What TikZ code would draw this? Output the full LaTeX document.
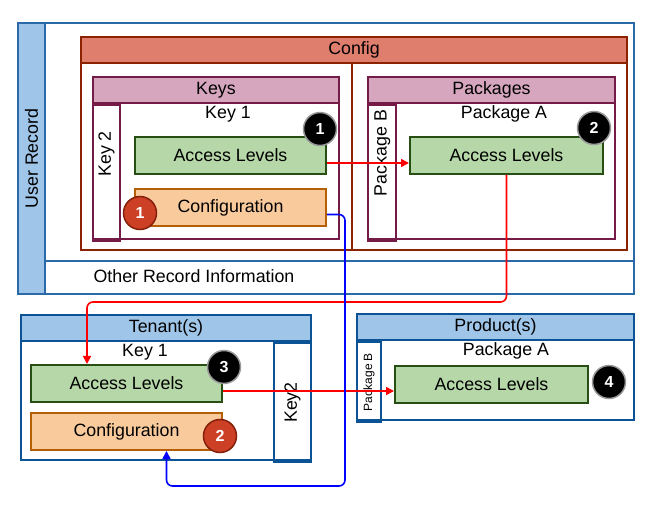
\documentclass[tikz,border=0pt]{standalone}
\usepackage{fontspec}
\setmainfont{Liberation Sans}
\usepackage{xcolor}
\usepackage{tikz}
\usetikzlibrary{arrows.meta}
\usetikzlibrary{calc}
\usetikzlibrary{positioning}

\definecolor{recblue}{HTML}{2A6AA8}
\definecolor{hdrblue}{HTML}{9FC5E8}
\definecolor{tenblue}{HTML}{0B5394}
\definecolor{cfgfill}{HTML}{E07E6E}
\definecolor{cfgline}{HTML}{8B2200}
\definecolor{keyfill}{HTML}{D5A6BD}
\definecolor{keyline}{HTML}{741B47}
\definecolor{alfill}{HTML}{B6D7A8}
\definecolor{alline}{HTML}{274E13}
\definecolor{cffill}{HTML}{F9CB9C}
\definecolor{cfline}{HTML}{B45F06}
\definecolor{badgered}{HTML}{CC4125}
\definecolor{badgeline}{HTML}{85200C}

\begin{document}
\begin{tikzpicture}
[
	x					= 1pt,
	y					= -1pt,
	every node/.style	= {font = \fontsize{17.8}{20}\selectfont, inner sep = 0pt},
	Frame/.style		= {anchor = north west, line width = 2pt},
	Header/.style		= {Frame, minimum height = 26pt},
	Item/.style			= {Frame, minimum width = 191pt, minimum height = 37pt},
	Access/.style		= {Item, fill = alfill, draw = alline},
	Setting/.style		= {Item, fill = cffill, draw = cfline},
	Badge/.style		= {circle, minimum size = 33pt, text = white, line width = 1.5pt, font = \fontsize{16}{16}\selectfont\bfseries},
	BlackBadge/.style	= {Badge, fill = black, draw = black!40},
	RedBadge/.style		= {Badge, fill = badgered, draw = badgeline},
	Link/.style			= {line width = 1.6pt, rounded corners = 6pt, -{Triangle[length = 8pt, width = 8pt]}},
]

	\useasboundingbox (0,0) rectangle (654,513);

	% user record
	\node (rec) [Frame, draw = recblue, minimum width = 616pt, minimum height = 271pt] at (17,22) {};
	\node (recSide) [Frame, draw = recblue, fill = hdrblue, minimum width = 27pt, minimum height = 271pt] at (17,22) {};
	\node (recName) [rotate = 90] at (recSide.center) {User Record};
	\node (other) [Frame, draw = recblue, minimum width = 589pt, minimum height = 33pt] at (44,260) {};
	\node (otherName) at (194,276) {Other Record Information};

	% config
	\node (cfg) [Frame, draw = cfgline, minimum width = 546pt, minimum height = 213pt] at (80,36) {};
	\node (cfgHead) [Header, draw = cfgline, fill = cfgfill, minimum width = 546pt] at (cfg.north west) {Config};
	\coordinate (cfgSplit) at (352,62);
	\draw [line width = 2pt, draw = cfgline] (cfgSplit) -- (cfgSplit |- cfg.south);

	\node (keys) [Frame, draw = keyline, minimum width = 246pt, minimum height = 162pt] at (92,76) {};
	\node (keysHead) [Header, draw = keyline, fill = keyfill, minimum width = 246pt] at (keys.north west) {Keys};
	\node (key2) [Frame, draw = keyline, minimum width = 27pt, minimum height = 136pt] at (keysHead.south west) {};
	\node (key2Name) [rotate = 90] at ($(key2.center)+(0,-19)$) {Key 2};
	\node (key1Name) at (228,114) {Key 1};
	\node (keyAccess) [Access] at (134,136) {Access Levels};
	\node (keyConfig) [Setting] at (134,188) {Configuration};

	\node (pkgs) [Frame, draw = keyline, minimum width = 247pt, minimum height = 162pt] at (367,76) {};
	\node (pkgsHead) [Header, draw = keyline, fill = keyfill, minimum width = 247pt] at (pkgs.north west) {Packages};
	\node (pkgB) [Frame, draw = keyline, minimum width = 28pt, minimum height = 136pt] at (pkgsHead.south west) {};
	\node (pkgBName) [rotate = 90] at ($(pkgB.center)+(0,-20)$) {Package B};
	\node (pkgAName) at (504,114) {Package A};
	\node (pkgAccess) [Access, minimum width = 193pt] at (409,136) {Access Levels};

	% tenant
	\node (ten) [Frame, draw = tenblue, minimum width = 290pt, minimum height = 145pt] at (20,314) {};
	\node (tenHead) [Header, draw = tenblue, fill = hdrblue, minimum width = 290pt] at (ten.north west) {Tenant(s)};
	\node (tenKey2) [Frame, draw = tenblue, anchor = north east, minimum width = 37pt, minimum height = 119pt] at (tenHead.south east) {};
	\node (tenKey2Name) [rotate = 90] at (tenKey2.center) {Key2};
	\node (tenKey1Name) at (145,352) {Key 1};
	\node (tenAccess) [Access] at (30,364) {Access Levels};
	\node (tenConfig) [Setting] at (30,412) {Configuration};

	% product
	\node (prod) [Frame, draw = tenblue, minimum width = 277pt, minimum height = 106pt] at (356,313) {};
	\node (prodHead) [Header, draw = tenblue, fill = hdrblue, minimum width = 277pt] at (prod.north west) {Product(s)};
	\node (prodPkgB) [Frame, draw = tenblue, minimum width = 24pt, minimum height = 80pt] at (prodHead.south west) {};
	\node (prodPkgBName) [rotate = 90, font = \fontsize{12}{14}\selectfont] at (prodPkgB.center) {Package B};
	\node (prodPkgAName) at (506,351) {Package A};
	\node (prodAccess) [Access, minimum width = 193pt] at (394,365) {Access Levels};

	% links
	\coordinate (redTurn) at (87,302);
	\coordinate (blueTurn) at (345,486);
	\draw [Link, red] ([yshift = -7.5pt]keyAccess.east) -- ([yshift = -7.5pt]pkgAccess.west);
	\draw [Link, red] (pkgAccess.south) |- (redTurn) -- (redTurn |- tenAccess.north);
	\draw [Link, red] ([yshift = -7.5pt]tenAccess.east) -- ([yshift = -6.5pt]prodAccess.west);
	\draw [Link, blue] ([yshift = -7pt]keyConfig.east) -| (blueTurn) -| ([xshift = 40pt]tenConfig.south);

	% badges
	\node (b1) [BlackBadge] at (320,129) {1};
	\node (r1) [RedBadge] at (140,213) {1};
	\node (b2) [BlackBadge] at (594,128) {2};
	\node (b3) [BlackBadge] at (224,367) {3};
	\node (r2) [RedBadge] at (220,436) {2};
	\node (b4) [BlackBadge] at (609,382) {4};

\end{tikzpicture}
\end{document}
